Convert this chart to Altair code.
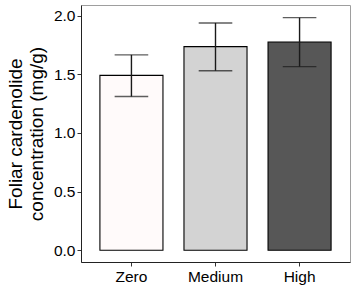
import altair as alt
import pandas as pd

groups = ["Zero", "Medium", "High"]
means = [1.49, 1.735, 1.775]
lower = [1.31, 1.53, 1.565]
upper = [1.665, 1.937, 1.982]
fills = ["#FFFAFA", "#D3D3D3", "#575757"]

df = pd.DataFrame({"group": groups, "mean": means, "lo": lower, "hi": upper})

xenc = alt.X(
    "group:N",
    sort=groups,
    title=None,
    scale=alt.Scale(paddingInner=0.25, paddingOuter=0.225),
    axis=alt.Axis(labelAngle=0, labelFontSize=15.5, labelColor="black",
                  tickColor="#333333", tickSize=4, domainColor="#222222",
                  labelPadding=3),
)
yscale = alt.Scale(domain=[-0.1, 2.09], nice=False, zero=False)

bars = alt.Chart(df).mark_bar(stroke="black", strokeWidth=1.1).encode(
    x=xenc,
    y=alt.Y("mean:Q", scale=yscale,
            title=["Foliar cardenolide", "concentration (mg/g)"],
            axis=alt.Axis(values=[0, 0.5, 1.0, 1.5, 2.0], format=".1f",
                          labelFontSize=15.5, labelColor="black",
                          tickColor="#333333", tickSize=4,
                          domainColor="#222222", titleFontSize=19,
                          titleFontWeight="normal", titleColor="black",
                          titleLineHeight=21, titlePadding=7, labelPadding=2)),
    y2=alt.Y2(datum=0),
    fill=alt.Fill("group:N", scale=alt.Scale(domain=groups, range=fills), legend=None),
)

rules = alt.Chart(df).mark_rule(color="#1a1a1a", strokeWidth=1.4).encode(
    x=alt.X("group:N", sort=groups),
    y="lo:Q",
    y2="hi:Q",
)

caps_hi = alt.Chart(df).mark_tick(color="#1a1a1a", thickness=1.4, size=33.6).encode(
    x=alt.X("group:N", sort=groups),
    y="hi:Q",
)
caps_lo = alt.Chart(df).mark_tick(color="#1a1a1a", thickness=1.4, size=33.6).encode(
    x=alt.X("group:N", sort=groups),
    y="lo:Q",
)

chart = alt.layer(bars, rules, caps_hi, caps_lo).properties(
    width=269, height=257,
    autosize=alt.AutoSizeParams(type="none"),
    padding={"left": 81, "top": 5, "right": 6, "bottom": 23},
).configure_view(stroke="#9E9E9E", strokeWidth=1).configure_axis(
    grid=False, labelFont="Liberation Sans", titleFont="Liberation Sans"
)

chart.save("out.html", embed_options={"renderer": "svg", "actions": False})
